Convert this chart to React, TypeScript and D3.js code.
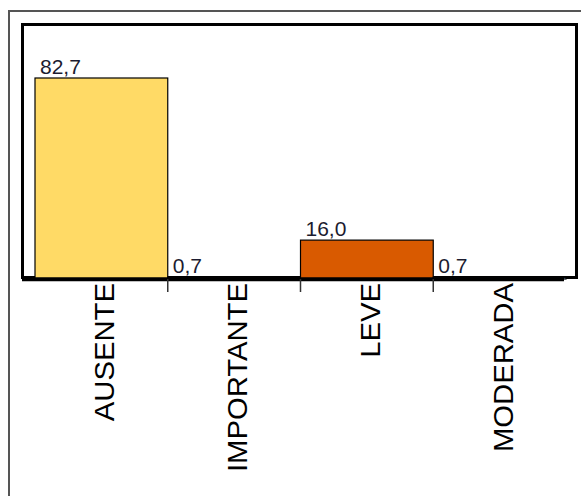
import React from "react";
import * as d3 from "d3";

const categories = ["AUSENTE", "IMPORTANTE", "LEVE", "MODERADA"];
const values = [82.7, 0.7, 16.0, 0.7];
const valueLabels = ["82,7", "0,7", "16,0", "0,7"];
const barColors = ["#FFDA66", "#8B4A8B", "#D95A00", "#6FA0D0"];

export default function App() {
  const W = 581;
  const H = 496;
  const x = d3.scaleBand<string>().domain(categories).range([35, 566]).paddingInner(0).paddingOuter(0);
  const y = d3.scaleLinear().domain([0, 105]).range([279, 23.8]);
  const y0 = y(0);
  const bw = x.bandwidth();

  return (
    <div style={{ position: "absolute", left: 0, top: 0 }}>
      <svg width={W} height={H} style={{ display: "block" }} fontFamily="'Liberation Sans', Arial, sans-serif">
        <rect x={0} y={0} width={W} height={H} fill="#fff" />
        {/* outer frame */}
        <rect x={9} y={11} width={700} height={700} fill="none" stroke="#555" strokeWidth={2} />
        {/* plot box */}
        <rect x={22.5} y={24.5} width={554} height={253} fill="#fff" stroke="#000" strokeWidth={3} />
        {/* bars */}
        {categories.map((c, i) => (
          <rect
            key={c}
            x={x(c)!}
            y={y(values[i])}
            width={bw}
            height={y0 - y(values[i])}
            fill={barColors[i]}
            stroke="#000"
            strokeWidth={1.2}
          />
        ))}
        {/* axis line */}
        <line x1={22} x2={564} y1={279.3} y2={279.3} stroke="#000" strokeWidth={4} />
        {/* ticks at inner band boundaries */}
        {categories.slice(1).map((c) => (
          <line key={"t" + c} x1={x(c)!} x2={x(c)!} y1={279} y2={292} stroke="#333" strokeWidth={1.5} />
        ))}
        {/* value labels */}
        {categories.map((c, i) => (
          <text
            key={"v" + c}
            x={x(c)! + 5}
            y={y(values[i]) - 4}
            fontSize={21}
            fill="#1c1c30"
          >
            {valueLabels[i]}
          </text>
        ))}
        {/* category labels */}
        {categories.map((c) => (
          <text
            key={"c" + c}
            transform={`translate(${x(c)! + bw / 2 + 3},283) rotate(-90) scale(1.045,1)`}
            textAnchor="end"
            dy="0.36em"
            fontSize={28}
            fill="#000"
          >
            {c}
          </text>
        ))}
      </svg>
    </div>
  );
}
